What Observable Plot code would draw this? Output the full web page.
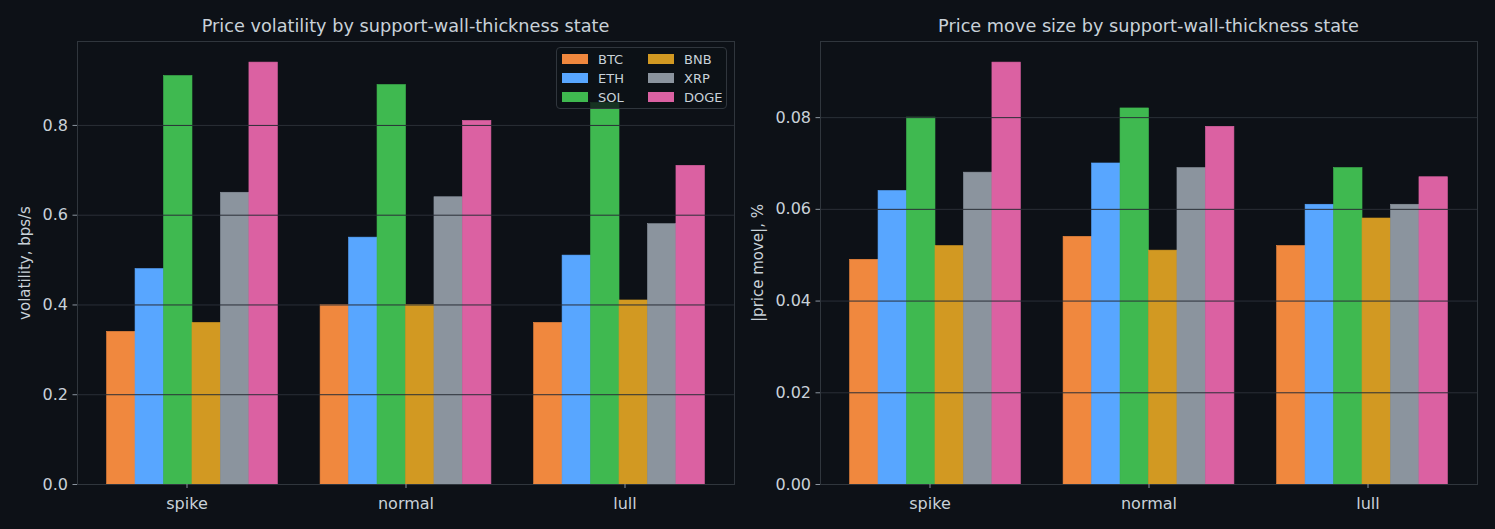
<!DOCTYPE html>
<html>
<head>
<meta charset="utf-8">
<script src="https://cdn.jsdelivr.net/npm/d3@7"></script>
<script src="https://cdn.jsdelivr.net/npm/@observablehq/plot@0.6"></script>
<style>
  html, body { margin: 0; padding: 0; background: #0d1117; }
  body { position: relative; width: 1495px; height: 529px; overflow: hidden; font-family: "DejaVu Sans", sans-serif; }
  .panel { position: absolute; top: 0; width: 747px; height: 529px; }
  .panel svg { position: absolute; left: 0; top: 0; }
  .title { position: absolute; top: 16px; color: #c9d1d9; font-size: 17.7px; white-space: nowrap; transform: translateX(-50%); }
  .ylabel { position: absolute; color: #c9d1d9; font-size: 15px; white-space: nowrap; transform: translate(-50%, -50%) rotate(-90deg); }
  .legend { position: absolute; border: 1px solid #30363d; border-radius: 4px; background: rgba(13,17,23,0.8); box-sizing: border-box; }
  .legend .item { position: absolute; height: 14px; display: flex; align-items: center; color: #c9d1d9; font-size: 13px; }
  .legend .sw { width: 26px; height: 10px; margin-right: 10px; }
</style>
</head>
<body>
<div id="left" class="panel" style="left:0px"></div>
<div id="right" class="panel" style="left:747px"></div>
<script>
// Support-wall-thickness states and coins
const states = ["spike", "normal", "lull"];
const coins = ["BTC", "ETH", "SOL", "BNB", "XRP", "DOGE"];
const coinColors = ["#f0883e", "#58a6ff", "#3fb950", "#d29922", "#8b949e", "#db61a2"];

// Price volatility (bps/s), one value per coin, per state
const volSpike  = [0.34, 0.48, 0.91, 0.36, 0.65, 0.94];
const volNormal = [0.40, 0.55, 0.89, 0.40, 0.64, 0.81];
const volLull   = [0.36, 0.51, 0.85, 0.41, 0.58, 0.71];

// Mean |price move| (%), one value per coin, per state
const moveSpike  = [0.049, 0.064, 0.080, 0.052, 0.068, 0.092];
const moveNormal = [0.054, 0.070, 0.082, 0.051, 0.069, 0.078];
const moveLull   = [0.052, 0.061, 0.069, 0.058, 0.061, 0.067];

// Axis ticks
const volTicks = [0, 0.2, 0.4, 0.6, 0.8];
const moveTicks = [0, 0.02, 0.04, 0.06, 0.08];

function toRows(seriesByState) {
  const rows = [];
  states.forEach((s, i) => {
    coins.forEach((c, j) => rows.push({state: s, coin: c, value: seriesByState[i][j]}));
  });
  return rows;
}

const W = 747, H = 529, MT = 41, MB = 45;
const groupPadInner = 0.2, groupPadOuter = 0.1385;

function panel(el, {rows, ticks, fmt, marginLeft, marginRight, title, yLabel, yLabelX}) {
  const yMax = d3.max(rows, d => d.value) * 1.05;
  const common = {
    width: W, height: H,
    marginTop: MT, marginBottom: MB, marginLeft, marginRight,
    style: {background: "transparent", color: "#c9d1d9", fontFamily: "DejaVu Sans, sans-serif", fontSize: "16px"}
  };

  // Grouped bars: one facet per state, one band per coin
  const bars = Plot.plot({
    ...common,
    fx: {domain: states, paddingInner: groupPadInner, paddingOuter: groupPadOuter, round: false, axis: null, label: null},
    x: {domain: coins, padding: 0, round: false, axis: null},
    y: {domain: [0, yMax], axis: null},
    color: {domain: coins, range: coinColors},
    marks: [
      Plot.barY(rows, {fx: "state", x: "coin", y: "value", fill: "coin", stroke: "coin", strokeWidth: 0.6, inset: 0})
    ]
  });

  // Grid, frame and axes, drawn over the bars across the whole panel
  const frame = Plot.plot({
    ...common,
    x: {domain: states, paddingInner: groupPadInner, paddingOuter: groupPadOuter, round: false},
    y: {domain: [0, yMax]},
    marks: [
      Plot.ruleY(ticks.filter(t => t > 0), {stroke: "#2a2f37", strokeWidth: 1}),
      Plot.frame({stroke: "#30363d"}),
      Plot.axisY(ticks, {anchor: "left", tickSize: 4.5, tickPadding: 5, tickFormat: fmt, stroke: "#8b949e", label: null}),
      Plot.axisX(states, {anchor: "bottom", tickSize: 4, tickPadding: 9, stroke: "#8b949e", label: null})
    ]
  });

  el.appendChild(bars);
  el.appendChild(frame);

  const t = document.createElement("div");
  t.className = "title";
  t.textContent = title;
  t.style.left = (marginLeft + (W - marginLeft - marginRight) / 2) + "px";
  el.appendChild(t);

  const yl = document.createElement("div");
  yl.className = "ylabel";
  yl.textContent = yLabel;
  yl.style.left = yLabelX + "px";
  yl.style.top = (MT + (H - MT - MB) / 2) + "px";
  el.appendChild(yl);
}

panel(document.getElementById("left"), {
  rows: toRows([volSpike, volNormal, volLull]),
  ticks: volTicks,
  fmt: d3.format(".1f"),
  marginLeft: 77,
  marginRight: 13,
  title: "Price volatility by support-wall-thickness state",
  yLabel: "volatility, bps/s",
  yLabelX: 25
});

panel(document.getElementById("right"), {
  rows: toRows([moveSpike, moveNormal, moveLull]),
  ticks: moveTicks,
  fmt: d3.format(".2f"),
  marginLeft: 73,
  marginRight: 17,
  title: "Price move size by support-wall-thickness state",
  yLabel: "|price move|, %",
  yLabelX: 11
});

// Legend inside the left panel, two columns of three
const legend = d3.select("#left").append("div")
  .attr("class", "legend")
  .style("left", "556px").style("top", "47px")
  .style("width", "171px").style("height", "62px");
coins.forEach((c, i) => {
  const item = legend.append("div").attr("class", "item")
    .style("left", (5 + Math.floor(i / 3) * 86) + "px")
    .style("top", (4 + (i % 3) * 19) + "px");
  item.append("div").attr("class", "sw").style("background", coinColors[i]);
  item.append("span").text(c);
});
</script>
</body>
</html>
